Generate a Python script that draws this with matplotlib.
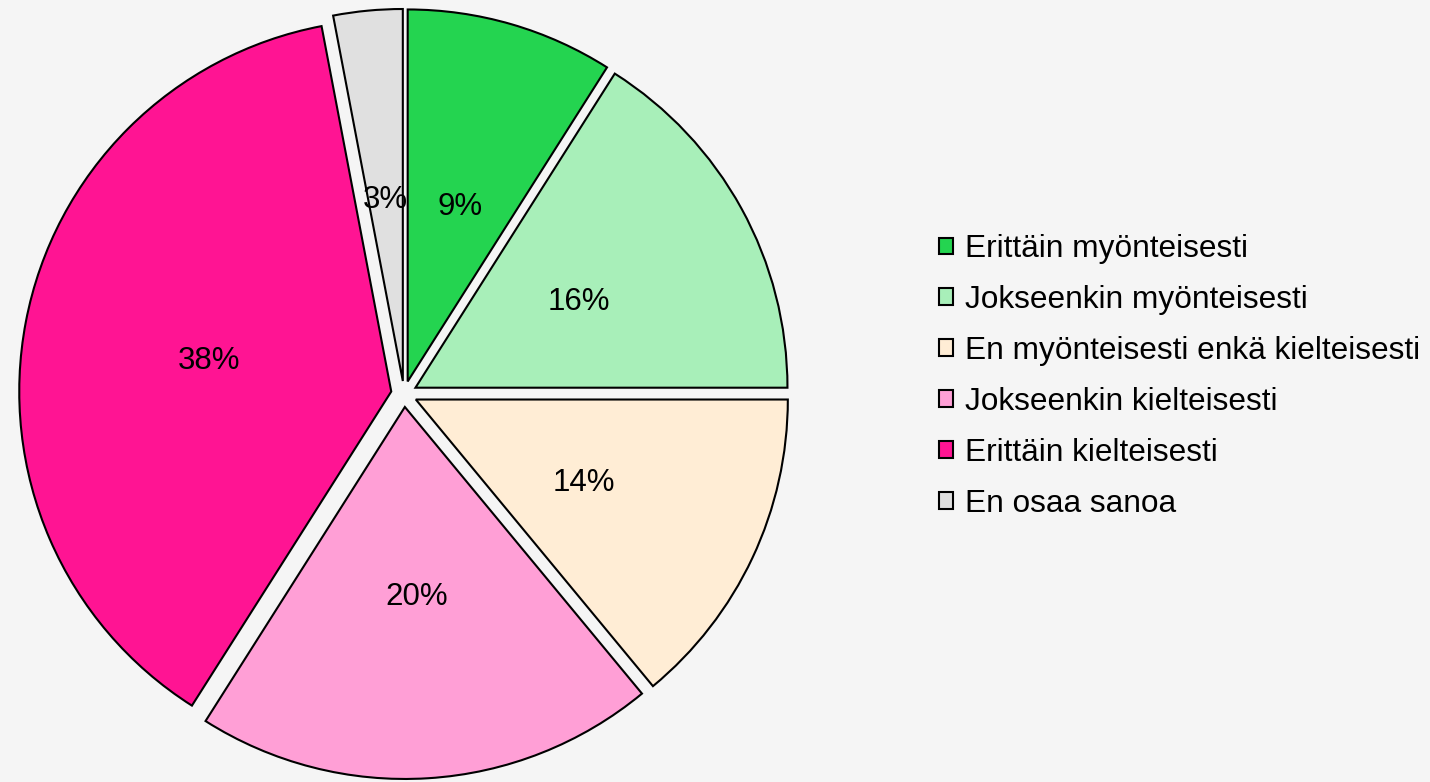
import matplotlib.pyplot as plt
from matplotlib.patches import Patch
from matplotlib.transforms import offset_copy

# ============================================================
# DATA
# ============================================================
LABELS = ['Erittäin myönteisesti', 'Jokseenkin myönteisesti',
          'En myönteisesti enkä kielteisesti', 'Jokseenkin kielteisesti',
          'Erittäin kielteisesti', 'En osaa sanoa']
VALUES = [9, 16, 14, 20, 38, 3]
COLORS = ['#24D450', '#A8EFB9', '#FFEDD5', '#FF9FD6', '#FF1493', '#E0E0E0']

BG = '#F5F5F5'
plt.rcParams['font.family'] = ['Liberation Sans', 'DejaVu Sans']

fig = plt.figure(figsize=(14.3, 7.82), dpi=100, facecolor=BG)
ax = fig.add_axes([0.0224, 0.0205, 0.5203, 0.9514])
ax.set_facecolor(BG)

wedges, texts, autotexts = ax.pie(
    VALUES,
    colors=COLORS,
    explode=[0.035] * len(VALUES),
    startangle=90,
    counterclock=False,
    autopct='%.0f%%',
    pctdistance=0.5,
    wedgeprops=dict(edgecolor='black', linewidth=1.5),
    textprops=dict(fontsize=22.5, color='black'),
    radius=1.0,
)
# nudge the percentage labels a few pixels down
for t in autotexts:
    t.set_transform(offset_copy(ax.transData, fig=fig, x=0, y=-4, units='dots'))

ax.set_xlim(-1, 1)
ax.set_ylim(-1, 1)
ax.set_aspect('equal')
ax.axis('off')

handles = [Patch(facecolor=c, edgecolor='black', linewidth=1.5) for c in COLORS]
fig.legend(handles, LABELS, loc='center left', bbox_to_anchor=(0.6566, 0.5185),
           frameon=False, fontsize=22.8, handlelength=0.44, handleheight=0.44,
           handletextpad=0.38, labelspacing=0.66, borderpad=0, borderaxespad=0)

fig.savefig('out.png', dpi=100, facecolor=BG)
